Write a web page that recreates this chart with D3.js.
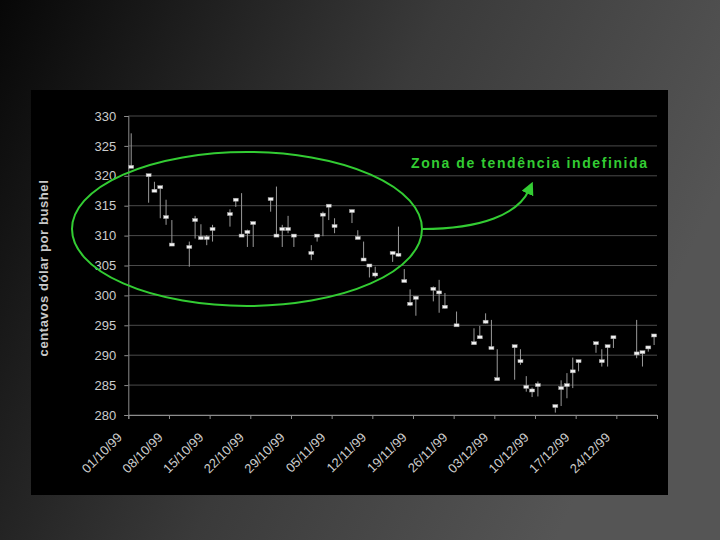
<!DOCTYPE html>
<html lang="pt">
	<head>
		<meta charset="utf-8">
		<title>Soja - cotações out-dez 1999</title>
		<script src="https://d3js.org/d3.v7.min.js"></script>
		<style>
			body { margin: 0; }
			svg { display: block; font-family: "Liberation Sans", Arial, sans-serif; }
		</style>
	</head>
	<body>
		<script type="text/javascript">

			// Trading days, high / low / close (centavos de dólar por bushel)
			var dates = ["01/10/1999","04/10/1999","05/10/1999","06/10/1999","07/10/1999","08/10/1999",
				"11/10/1999","12/10/1999","13/10/1999","14/10/1999","15/10/1999",
				"18/10/1999","19/10/1999","20/10/1999","21/10/1999","22/10/1999",
				"25/10/1999","26/10/1999","27/10/1999","28/10/1999","29/10/1999",
				"01/11/1999","02/11/1999","03/11/1999","04/11/1999","05/11/1999",
				"08/11/1999","09/11/1999","10/11/1999","11/11/1999","12/11/1999",
				"15/11/1999","16/11/1999","17/11/1999","18/11/1999","19/11/1999",
				"22/11/1999","23/11/1999","24/11/1999","26/11/1999",
				"29/11/1999","30/11/1999","01/12/1999","02/12/1999","03/12/1999",
				"06/12/1999","07/12/1999","08/12/1999","09/12/1999","10/12/1999",
				"13/12/1999","14/12/1999","15/12/1999","16/12/1999","17/12/1999",
				"20/12/1999","21/12/1999","22/12/1999","23/12/1999",
				"27/12/1999","28/12/1999","29/12/1999","30/12/1999"];

			var high = [327.1,320.2,319.0,318.3,316.0,312.6,
				309.0,313.3,311.9,310.1,311.8,
				314.4,316.2,317.1,311.0,312.3,
				316.2,318.2,311.8,313.3,310.1,
				308.4,310.1,314.0,315.1,312.9,
				314.3,310.9,309.0,305.1,304.8,
				307.3,311.5,304.4,301.0,299.8,
				301.5,302.6,300.4,297.3,
				294.5,294.9,297.0,295.9,291.0,
				291.6,291.0,286.5,284.6,285.6,
				281.6,285.8,287.0,289.6,289.2,
				292.1,291.0,291.6,293.2,
				295.9,290.6,291.4,293.4];

			var low = [321.3,315.5,317.3,312.9,311.8,308.3,
				304.8,309.5,309.3,308.4,309.0,
				311.5,314.8,309.9,308.1,308.1,
				314.0,309.9,308.1,310.4,308.1,
				305.9,309.0,309.9,312.6,310.4,
				312.1,309.5,305.9,303.0,303.0,
				305.6,306.5,302.3,298.2,296.6,
				299.0,297.1,297.8,294.9,
				291.9,292.8,295.3,291.1,285.9,
				285.9,288.4,283.9,283.0,283.1,
				280.4,281.5,282.8,284.5,287.3,
				290.4,288.1,288.1,291.2,
				289.5,288.1,290.6,291.7];

			var close = [321.5,320.1,317.5,318.1,313.1,308.5,
				308.1,312.6,309.6,309.6,311.1,
				313.6,316.0,310.0,310.6,312.1,
				316.1,310.0,311.1,311.1,310.0,
				307.1,310.0,313.5,315.0,311.6,
				314.1,309.6,306.0,305.0,303.5,
				307.1,306.8,302.4,298.6,299.6,
				301.1,300.5,298.1,295.0,
				292.0,293.0,295.6,291.2,286.0,
				291.5,289.0,284.7,284.1,285.0,
				281.5,284.5,285.0,287.3,289.0,
				292.0,289.0,291.5,293.0,
				290.3,290.5,291.3,293.3];

			var tickLabels = ["01/10/99","08/10/99","15/10/99","22/10/99","29/10/99","05/11/99",
				"12/11/99","19/11/99","26/11/99","03/12/99","10/12/99","17/12/99","24/12/99"];

			var yTicks = [280,285,290,295,300,305,310,315,320,325,330];

			var note = "Zona de tendência indefinida";
			var yTitle = "centavos dólar por bushel";

			var w = 720, h = 540;
			var plotLeft = 128.3, plotRight = 657, plotTop = 116, plotBottom = 415;

			var parseDay = d3.timeParse("%d/%m/%Y");
			var parseTick = d3.timeParse("%d/%m/%y");

			var data = dates.map(function(d, i) {
				return {date: parseDay(d), high: high[i], low: low[i], close: close[i]};
			});

			var tickDates = tickLabels.map(parseTick);
			var endDate = d3.timeDay.offset(data[data.length-1].date, 1);

			var xScale = d3.scaleTime()
				.domain([data[0].date, endDate])
				.range([plotLeft, plotRight]);

			var yScale = d3.scaleLinear()
				.domain([280, 330])
				.range([plotBottom, plotTop]);

			// centre of a day's slot
			function xc(d) { return xScale(d3.timeHour.offset(d, 12)); }

			var svg = d3.select("body").append("svg").attr("width", w).attr("height", h);

			var defs = svg.append("defs");
			var grad = defs.append("linearGradient")
				.attr("id", "bg").attr("x1", "0").attr("y1", "0").attr("x2", "1").attr("y2", "0.35");
			grad.append("stop").attr("offset", "0").attr("stop-color", "#070707");
			grad.append("stop").attr("offset", "0.55").attr("stop-color", "#3a3a3a");
			grad.append("stop").attr("offset", "1").attr("stop-color", "#555555");

			defs.append("marker")
				.attr("id", "arrow").attr("viewBox", "0 0 10 10")
				.attr("refX", 3).attr("refY", 5)
				.attr("markerWidth", 6.5).attr("markerHeight", 6.5)
				.attr("markerUnits", "strokeWidth")
				.attr("orient", "auto")
				.append("path").attr("d", "M0,0 L10,5 L0,10 z").attr("fill", "#33cc33");

			svg.append("rect").attr("width", w).attr("height", h).attr("fill", "url(#bg)");
			svg.append("rect").attr("x", 31).attr("y", 90).attr("width", 637).attr("height", 405).attr("fill", "#000");

			// gridlines
			svg.append("g").selectAll("line")
				.data(yTicks)
				.enter().append("line")
				.attr("x1", plotLeft).attr("x2", plotRight)
				.attr("y1", function(d) { return yScale(d); })
				.attr("y2", function(d) { return yScale(d); })
				.attr("stroke", "#4a4a4a").attr("stroke-width", 1);

			// axes
			var yAxis = d3.axisLeft(yScale).tickValues(yTicks).tickSize(4).tickPadding(8);
			var gy = svg.append("g").attr("transform", "translate(" + plotLeft + ",0)").call(yAxis);

			var xAxis = d3.axisBottom(xScale)
				.tickValues(tickDates.concat([endDate]))
				.tickSize(4)
				.tickFormat(function(d, i) { return i < tickLabels.length ? tickLabels[i] : ""; });
			var gx = svg.append("g").attr("transform", "translate(0," + plotBottom + ")").call(xAxis);

			[gx, gy].forEach(function(g) {
				g.selectAll("path, line").attr("stroke", "#8c8c8c");
				g.selectAll("text").attr("fill", "#cccccc").attr("font-size", 13)
					.attr("font-family", "Liberation Sans, Arial, sans-serif");
			});

			gx.selectAll("text")
				.attr("text-anchor", "end")
				.attr("dy", "0.35em")
				.attr("transform", "translate(-14,15) rotate(-45)");

			svg.append("text")
				.attr("transform", "translate(48,268) rotate(-90)")
				.attr("text-anchor", "middle")
				.attr("fill", "#c8c8c8")
				.attr("font-size", 13).attr("font-weight", "bold")
				.attr("letter-spacing", "0.6")
				.text(yTitle);

			// high-low bars
			var bars = svg.append("g");
			bars.selectAll("line")
				.data(data)
				.enter().append("line")
				.attr("x1", function(d) { return xc(d.date); })
				.attr("x2", function(d) { return xc(d.date); })
				.attr("y1", function(d) { return yScale(d.high); })
				.attr("y2", function(d) { return yScale(d.low); })
				.attr("stroke", "#9a9a9a").attr("stroke-width", 1);

			// close markers
			bars.selectAll("rect")
				.data(data)
				.enter().append("rect")
				.attr("x", function(d) { return xc(d.date) - 2.5; })
				.attr("y", function(d) { return yScale(d.close) - 1.5; })
				.attr("width", 5).attr("height", 3)
				.attr("fill", "#f2f2f2").attr("stroke", "#9a9a9a").attr("stroke-width", 0.5);

			// annotation
			svg.append("ellipse")
				.attr("cx", 247).attr("cy", 229).attr("rx", 175).attr("ry", 77)
				.attr("fill", "none").attr("stroke", "#33cc33").attr("stroke-width", 2);

			svg.append("path")
				.attr("d", "M422,229 C482,229 518,214 529,190")
				.attr("fill", "none").attr("stroke", "#33cc33").attr("stroke-width", 2)
				.attr("marker-end", "url(#arrow)");

			svg.append("text")
				.attr("x", 411).attr("y", 168)
				.attr("fill", "#33cc33")
				.attr("font-size", 14).attr("font-weight", "bold")
				.attr("textLength", 236).attr("lengthAdjust", "spacing")
				.text(note);

		</script>
	</body>
</html>
